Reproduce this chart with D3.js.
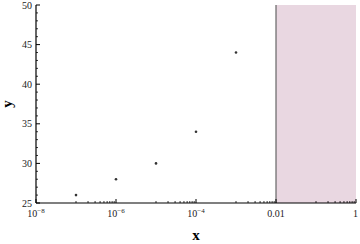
<!DOCTYPE html>
<html><head><meta charset="utf-8">
<script src="https://cdn.jsdelivr.net/npm/d3@7"></script>
<style>body{margin:0;background:#fff}svg{display:block}</style>
</head><body>
<svg id="c" width="360" height="244"></svg>
<script>
const xValues = [1e-7, 1e-6, 1e-5, 1e-4, 1e-3];
const yValues = [26, 28, 30, 34, 44];
const xMajorTicks = [1e-8, 1e-6, 1e-4, 1e-2, 1];
const xTickLabels = ["10^-8", "10^-6", "10^-4", "0.01", "1"];
const yMajorTicks = [25, 30, 35, 40, 45, 50];
const shadeRange = [0.01, 1];

const svg = d3.select("#c");
const x = d3.scaleLog().domain([1e-8, 1]).range([36, 356]);
const y = d3.scaleLinear().domain([25, 50]).range([203, 5]);
const font = "'Liberation Serif', 'DejaVu Serif', serif";

// shaded region
svg.append("rect")
  .attr("x", x(shadeRange[0])).attr("y", y(50))
  .attr("width", x(shadeRange[1]) - x(shadeRange[0]))
  .attr("height", y(25) - y(50))
  .attr("fill", "#e9d7e1");
svg.append("line")
  .attr("x1", x(shadeRange[0])).attr("x2", x(shadeRange[0]))
  .attr("y1", y(50)).attr("y2", y(25))
  .attr("stroke", "#666").attr("stroke-width", 1.2);

// x axis
const minorX = [];
[-7, -5, -3, -1].forEach(e => { for (let c = 1; c <= 9; c++) minorX.push(c * Math.pow(10, e)); });
const gx = svg.append("g").attr("transform", "translate(0,203)");
gx.append("line").attr("x1", 36).attr("x2", 356).attr("stroke", "#000").attr("stroke-width", 1.2);
gx.selectAll("line.mj").data(xMajorTicks).join("line").attr("class", "mj")
  .attr("x1", d => x(d)).attr("x2", d => x(d)).attr("y1", 0).attr("y2", -4)
  .attr("stroke", "#000").attr("stroke-width", 1);
gx.selectAll("line.mn").data(minorX).join("line").attr("class", "mn")
  .attr("x1", d => x(d)).attr("x2", d => x(d)).attr("y1", 0).attr("y2", -2)
  .attr("stroke", "#000").attr("stroke-width", 0.8);
const lbl = gx.selectAll("text").data(xMajorTicks).join("text")
  .attr("x", d => x(d)).attr("y", 14)
  .attr("text-anchor", "middle")
  .attr("font-family", font).attr("font-size", 10).attr("fill", "#222");
lbl.each(function(d, i) {
  const t = xTickLabels[i];
  const s = d3.select(this);
  if (t.startsWith("10^")) {
    s.append("tspan").text("10");
    s.append("tspan").attr("dy", -4).attr("font-size", 7).text(t.slice(3).replace("-", "\u2212"));
  } else s.text(t);
});
lbl.filter((d, i) => i === xMajorTicks.length - 1).attr("text-anchor", "end").attr("x", d => x(d) + 2);

// y axis
const gy = svg.append("g").attr("transform", "translate(36,0)");
gy.append("line").attr("y1", y(25)).attr("y2", y(50)).attr("stroke", "#000").attr("stroke-width", 1.2);
gy.selectAll("line.mj").data(yMajorTicks).join("line").attr("class", "mj")
  .attr("y1", d => y(d)).attr("y2", d => y(d)).attr("x1", 0).attr("x2", 4)
  .attr("stroke", "#000");
gy.selectAll("line.mn").data(d3.range(26, 50).filter(v => v % 5)).join("line").attr("class", "mn")
  .attr("y1", d => y(d)).attr("y2", d => y(d)).attr("x1", 0).attr("x2", 2)
  .attr("stroke", "#000").attr("stroke-width", 0.8);
gy.selectAll("text").data(yMajorTicks).join("text")
  .attr("x", -4).attr("y", d => y(d) + 3.5).attr("text-anchor", "end")
  .attr("font-family", font).attr("font-size", 10).attr("fill", "#222")
  .text(d => d);

// axis titles
svg.append("text").attr("x", 196).attr("y", 240).attr("text-anchor", "middle")
  .attr("font-family", font).attr("font-size", 15).attr("font-weight", "bold").text("x");
svg.append("text").attr("transform", "translate(12,104) rotate(-90)").attr("text-anchor", "middle")
  .attr("font-family", font).attr("font-size", 15).attr("font-weight", "bold").text("y");

// points
svg.selectAll("circle.pt").data(xValues).join("circle").attr("class", "pt")
  .attr("cx", d => x(d)).attr("cy", (d, i) => y(yValues[i]))
  .attr("r", 1.3).attr("fill", "#333");
</script>
</body></html>
